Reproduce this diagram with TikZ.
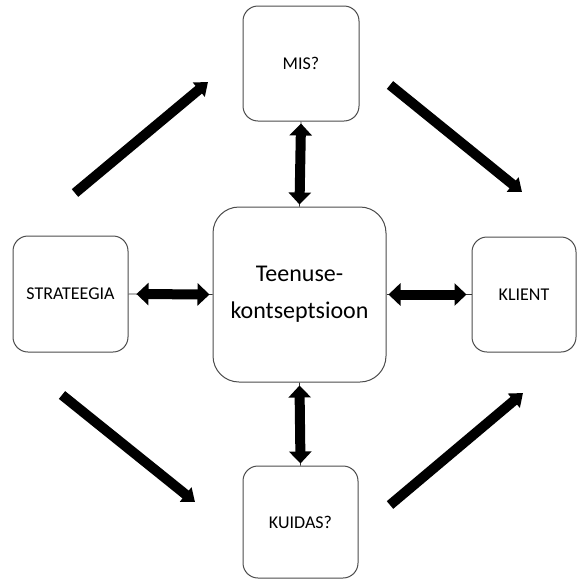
\documentclass[tikz,border=0pt]{standalone}
\usepackage{fontspec}
\setmainfont{Carlito}
\usetikzlibrary{arrows.meta,calc}

\tikzset{
  box/.style={draw=black!70, line width=1pt, rounded corners=15pt, fill=white,
    inner sep=0pt, font=\fontsize{18}{22}\selectfont},
  bigbox/.style={box, rounded corners=26pt, font=\fontsize{24}{37}\selectfont, align=center},
  link/.style={draw=black!80, line width=0.9pt},
  dblarrow/.style={line width=10pt,
    {Triangle[width=22pt,length=12pt]}-{Triangle[width=22pt,length=12pt]}},
  flow/.style={line width=10pt, -{Triangle[width=18pt,length=12pt]}}
}

\begin{document}
\begin{tikzpicture}[x=1pt,y=-1pt]
  \useasboundingbox (0,0) rectangle (577,579);

  % concept in the middle and the four surrounding boxes
  \node[bigbox, minimum width=173pt, minimum height=175pt] (core) at (299.5,294.5)
    {Teenuse-\\kontseptsioon};
  \node[box, minimum width=116pt, minimum height=115pt] (mis) at (301,63.5) {MIS?};
  \node[box, minimum width=115pt, minimum height=112pt] (kuidas) at (300.5,522) {KUIDAS?};
  \node[box, minimum width=115pt, minimum height=116pt] (strat) at (70.5,294) {STRATEEGIA};
  \node[box, minimum width=104pt, minimum height=115pt] (klient) at (524,294.5) {KLIENT};

  % thin links between the boxes
  \draw[link] (mis.south) -- (core.north);
  \draw[link] (core.south) -- (kuidas.north);
  \draw[link] (strat.east) -- (core.west);
  \draw[link] (core.east) -- (klient.west);

  % two-way block arrows on the links
  \draw[dblarrow] ($(mis.south)+(0,2)$) -- ($(core.north)+(0,-2)$);
  \draw[dblarrow] ($(core.south)+(0,3)$) -- ($(kuidas.north)+(0,-2)$);
  \draw[dblarrow] ($(strat.east)+(8,0)$) -- ($(core.west)+(-3,0)$);
  \draw[dblarrow] ($(core.east)+(2,0)$) -- ($(klient.west)+(-5,0)$);

  % diagonal flow arrows
  \coordinate (a1) at (75,193);   \coordinate (b1) at (208,82);
  \coordinate (a2) at (390,85);   \coordinate (b2) at (522,192);
  \coordinate (a3) at (62,395);   \coordinate (b3) at (195,502);
  \coordinate (a4) at (390,505);  \coordinate (b4) at (523,393);
  \draw[flow] (a1) -- (b1);
  \draw[flow] (a2) -- (b2);
  \draw[flow] (a3) -- (b3);
  \draw[flow] (a4) -- (b4);
\end{tikzpicture}
\end{document}
